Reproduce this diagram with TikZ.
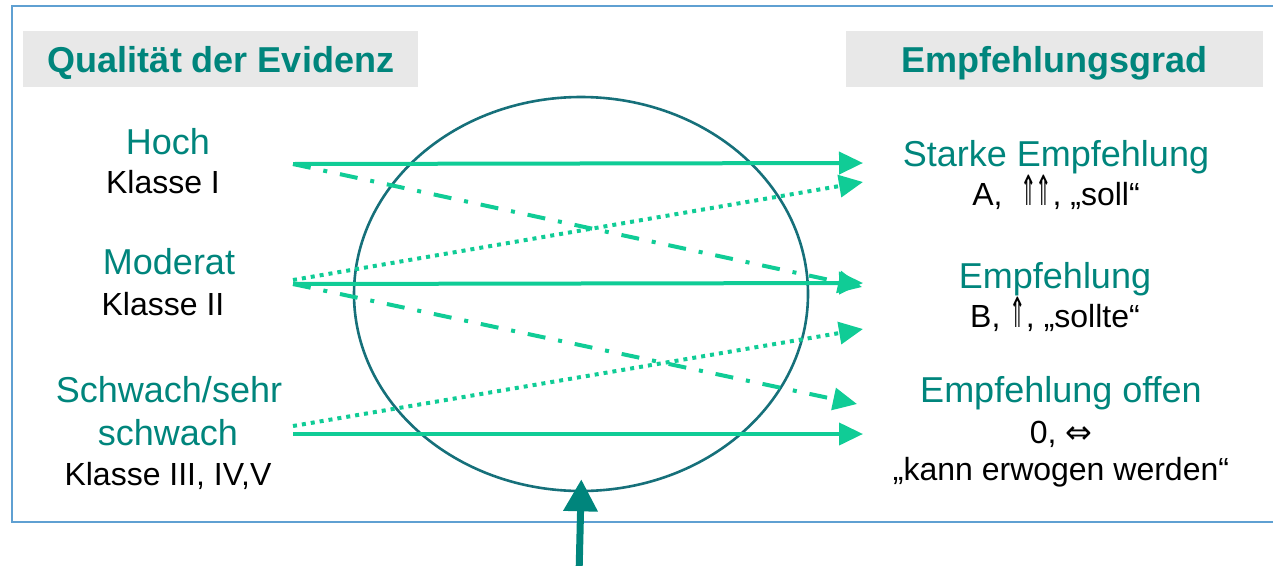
\documentclass[tikz,border=0pt]{standalone}
\usepackage{fontspec}
\setmainfont{Liberation Sans}
\newfontfamily\symfont{DejaVu Sans}
\newcommand{\uparr}{\raisebox{-0.5pt}{\scalebox{0.62}[1.3]{\symfont ⇑}}}
\usetikzlibrary{arrows.meta,shapes.geometric}
\definecolor{teal1}{RGB}{0,133,124}
\definecolor{mint}{RGB}{16,204,150}
\definecolor{ring}{RGB}{22,112,122}
\definecolor{frameblue}{RGB}{95,160,210}
\definecolor{hdrgray}{RGB}{232,232,232}
\tikzset{
  hdr/.style={anchor=base,text=teal1,font=\fontsize{36}{36}\selectfont\bfseries,inner sep=0pt},
  lvl/.style={anchor=base,text=teal1,font=\fontsize{36}{36}\selectfont,inner sep=0pt},
  sub/.style={anchor=base,text=black,font=\fontsize{32}{32}\selectfont,inner sep=0pt},
  link/.style={draw=mint,line width=4pt,-{Triangle[length=24pt,width=22pt]}},
  linkdotted/.style={link,dash pattern=on 4pt off 5pt},
  linkdashdot/.style={link,dash pattern=on 18pt off 13pt on 4pt off 13pt}
}
\begin{document}
\begin{tikzpicture}[x=1pt,y=-1pt]
\useasboundingbox (0,0) rectangle (1273,565);
% frame
\draw[frameblue,line width=1.6pt] (12,6) rectangle (1290,522);
% headers
\fill[hdrgray] (23,31) rectangle (418,87);
\fill[hdrgray] (846,31) rectangle (1263,87);
\node[hdr] (hq) at (221,72) {Qualität der Evidenz};
\node[hdr] (he) at (1054,72) {Empfehlungsgrad};
% left labels
\node[lvl] (hoch) at (168,154) {Hoch};
\node[sub] (k1) at (163,193) {Klasse I};
\node[lvl] (mod) at (169,274) {Moderat};
\node[sub] (k2) at (163,315) {Klasse II};
\node[lvl] (schw1) at (169,402) {Schwach/sehr};
\node[lvl] (schw2) at (168,445) {schwach};
\node[sub] (k3) at (168,485) {Klasse III, IV,V};
% right labels
\node[lvl] (se) at (1056,166) {Starke Empfehlung};
\node[sub] (sa) at (1056,205) {A,\ \ \uparr\kern-1pt\uparr, „soll“};
\node[lvl] (em) at (1055,288) {Empfehlung};
\node[sub] (eb) at (1055,327) {B, \uparr, „sollte“};
\node[lvl] (eo) at (1061,402) {Empfehlung offen};
\node[sub] (e0) at (1061,443) {0, {\symfont ⇔}};
\node[sub] (ek) at (1061,480) {„kann erwogen werden“};
% ellipse
\node[draw=ring,line width=2.6pt,ellipse,minimum width=454pt,minimum height=394pt,inner sep=0pt] (ring) at (581,294) {};
% start and end coordinates
\coordinate (s1) at (293,164);
\coordinate (s2a) at (293,280);
\coordinate (s2) at (293,284);
\coordinate (s3a) at (293,426);
\coordinate (s3) at (293,434);
\coordinate (t1) at (863,163);
\coordinate (t1b) at (863,182);
\coordinate (t2) at (863,283);
\coordinate (t2b) at (862,287);
\coordinate (t3a) at (863,329);
\coordinate (t3b) at (857,404);
\coordinate (t3) at (863,434);
% connectors
\draw[link] (s1) -- (t1);
\draw[linkdashdot] (s1) -- (t2b);
\draw[linkdotted] (s2a) -- (t1b);
\draw[link] (s2) -- (t2);
\draw[linkdashdot] (s2) -- (t3b);
\draw[linkdotted] (s3a) -- (t3a);
\draw[link] (s3) -- (t3);
% bottom arrow
\coordinate (b0) at (579,575);
\draw[draw=teal1,line width=7pt,shorten >=-13pt,-{Triangle[length=32pt,width=33pt]}] (b0) -- (ring.south);
\end{tikzpicture}
\end{document}
